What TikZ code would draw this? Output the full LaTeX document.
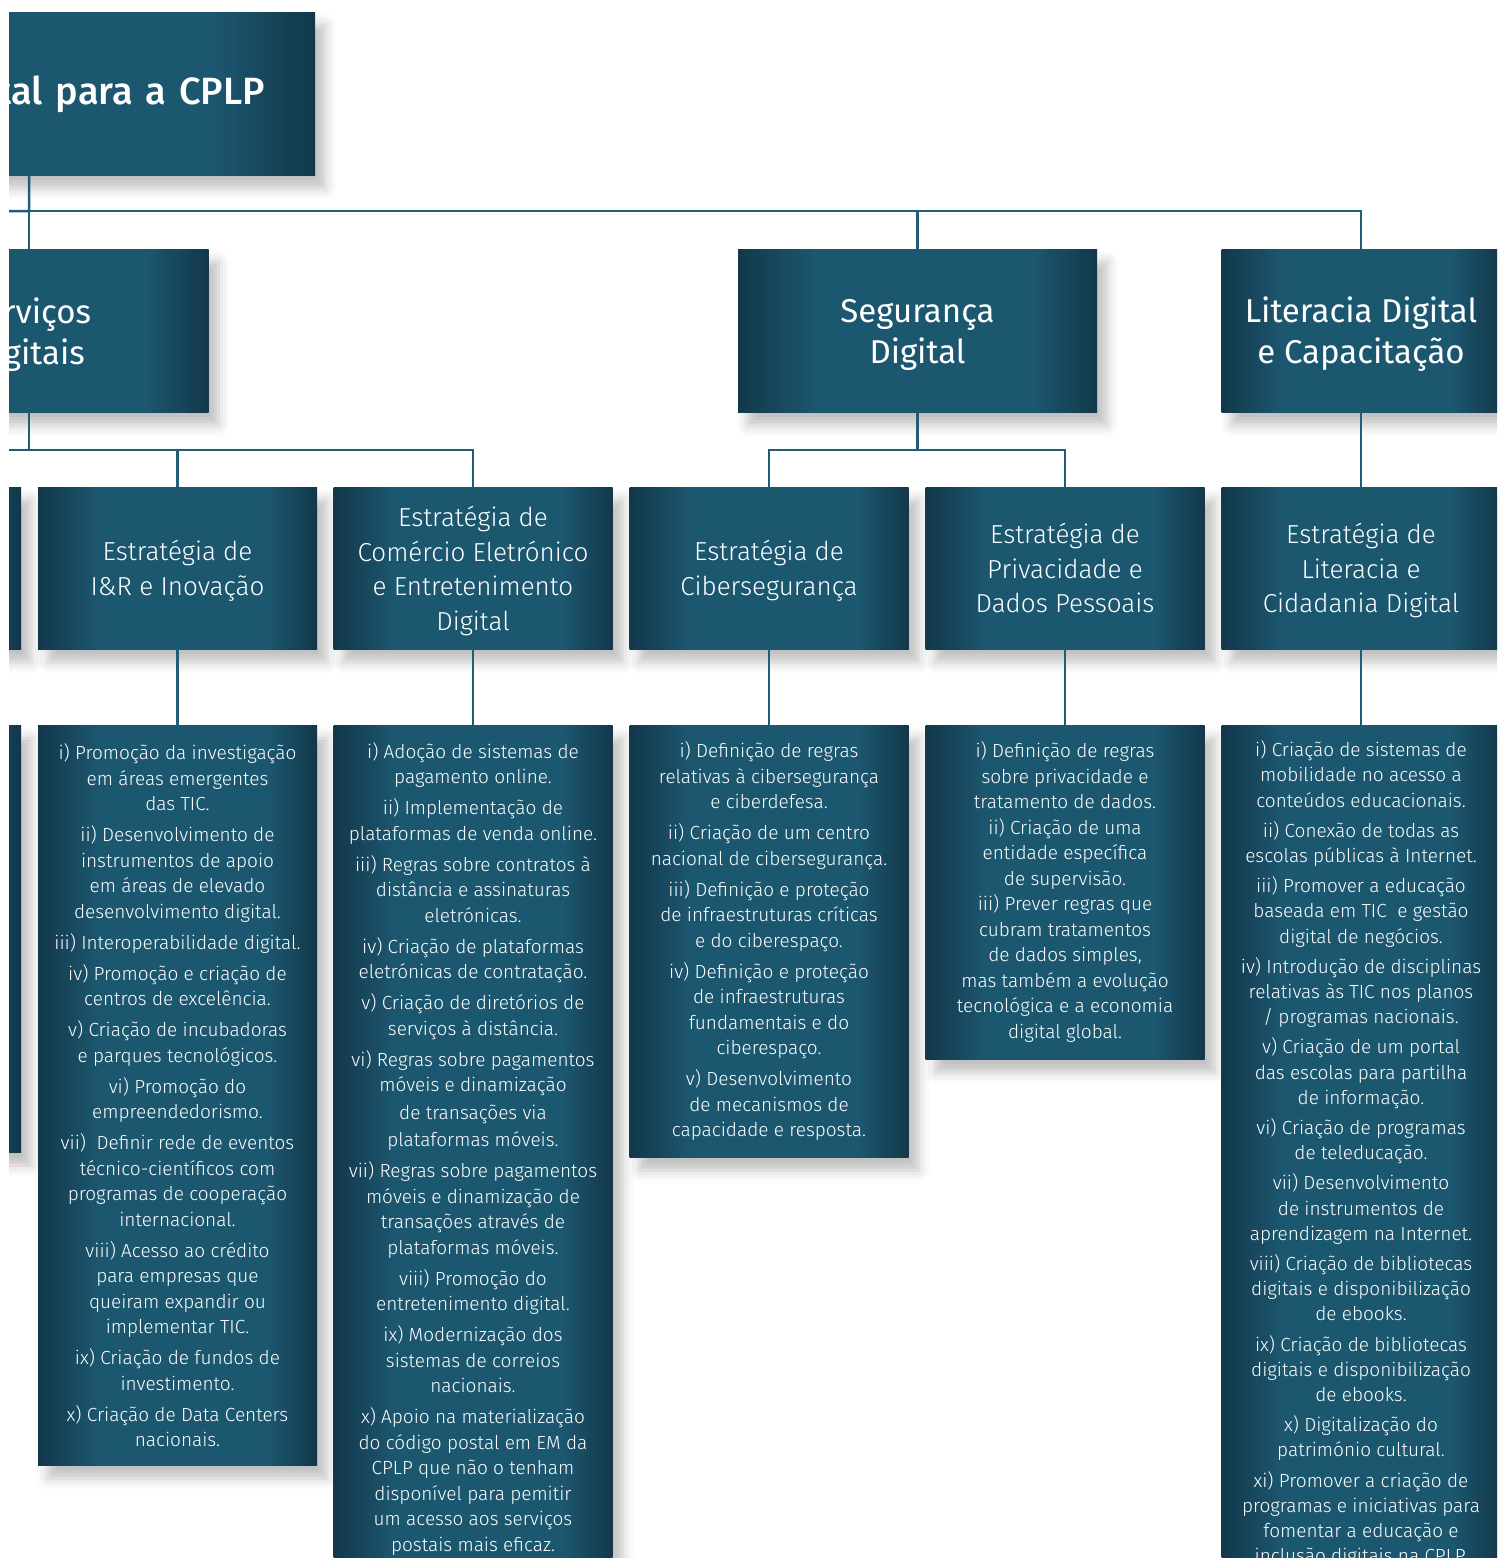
\documentclass[tikz,border=0pt]{standalone}
\usepackage{fontspec}
\setmainfont{Fira Sans}
\newfontfamily\firalight{Fira Sans Light}
\newfontfamily\firamedium{Fira Sans Medium}
\usetikzlibrary{shadows.blur}

\definecolor{boxlight}{RGB}{28,87,112}
\definecolor{boxdark}{RGB}{18,56,74}
\definecolor{linkblue}{RGB}{32,93,119}
\pgfdeclarehorizontalshading{boxshade}{100bp}{color(0bp)=(boxdark); color(25bp)=(boxdark); color(36bp)=(boxlight); color(66bp)=(boxlight); color(75bp)=(boxdark); color(100bp)=(boxdark)}

% lowers a line without changing its size
\newcommand{\dn}[2][4pt]{\raisebox{-#1}[\height][\depth]{#2}}

\tikzset{
	box/.style={shading=boxshade, text=white, align=center, inner sep=0pt,
		blur shadow={shadow xshift=10pt, shadow yshift=-13pt, shadow blur radius=11pt, shadow opacity=25}},
	rootbox/.style={box, minimum height=163pt, text width=472pt, inner xsep=50pt, align=right, font=\fontsize{38}{44}\selectfont\firamedium},
	areabox/.style={box, minimum width=359pt, minimum height=163pt, font=\fontsize{33}{41}\selectfont},
	stratbox/.style={box, minimum width=279pt, minimum height=162pt, font=\fontsize{26}{34.7}\selectfont\firalight},
	listbox/.style={box, minimum width=279pt, anchor=north, font=\fontsize{19}{25.5}\selectfont\firalight},
	link/.style={draw=linkblue, line width=2.5pt}
}

\begin{document}
\begin{tikzpicture}[x=1pt, y=-1pt]
	\useasboundingbox (0,0) rectangle (1497,1558);
	\clip (9,0) rectangle (1497,1558);

	% top and areas
	\node [rootbox] (root) at (29,93.5) {\llap{Agenda Digital para a CPLP}};
	\node [areabox] (srv) at (29,330.5) {\dn{Serviços}\\\dn{Digitais}};
	\node [areabox] (seg) at (917.5,330.5) {\dn{Segurança}\\\dn{Digital}};
	\node [areabox, minimum width=279pt] (lit) at (1361,330.5) {\dn{Literacia Digital}\\\dn{e Capacitação}};
	\coordinate (busw) at (-300,211);

	% strategies
	\node [stratbox] (x0) at (-118.5,568) {};
	\node [stratbox] (ir) at (177.5,568) {\dn[3pt]{Estratégia de}\\\dn[3pt]{I\&R e Inovação}};
	\node [stratbox] (com) at (473,568) {\dn[3pt]{Estratégia de}\\\dn[3pt]{Comércio Eletrónico}\\\dn[3pt]{e Entretenimento}\\\dn[3pt]{Digital}};
	\node [stratbox] (ciber) at (769,568) {\dn[3pt]{Estratégia de}\\\dn[3pt]{Cibersegurança}};
	\node [stratbox] (priv) at (1065,568) {Estratégia de\\Privacidade e\\Dados Pessoais};
	\node [stratbox] (cid) at (1361,568) {\dn[2.5pt]{Estratégia de}\\\dn[2.5pt]{Literacia e}\\\dn[2.5pt]{Cidadania Digital}};

	% measures
	\node [listbox, minimum height=427pt] (x0l) at (-118.5,725) {};
	\node [listbox, minimum height=740pt] (irl) at (177.5,725) {i) Promoção da investigação\\em áreas emergentes\\das TIC.\\[5.5pt]
		ii) Desenvolvimento de\\instrumentos de apoio\\em áreas de elevado\\desenvolvimento digital.\\[5.5pt]
		iii) Interoperabilidade digital.\\[5.5pt]
		iv) Promoção e criação de\\centros de excelência.\\[5.5pt]
		v) Criação de incubadoras\\e parques tecnológicos.\\[5.5pt]
		vi) Promoção do\\empreendedorismo.\\[5.5pt]
		vii)~~Definir rede de eventos\\técnico-científicos com\\programas de cooperação\\internacional.\\[5.5pt]
		viii) Acesso ao crédito\\para empresas que\\queiram expandir ou\\implementar TIC.\\[5.5pt]
		ix) Criação de fundos de\\investimento.\\[5.5pt]
		x) Criação de Data Centers\\nacionais.};
	\node [listbox, minimum height=847pt] (coml) at (473,725) {i) Adoção de sistemas de\\pagamento online.\\[5.5pt]
		ii) Implementação de\\plataformas de venda online.\\[5.5pt]
		iii) Regras sobre contratos à\\distância e assinaturas\\eletrónicas.\\[5.5pt]
		iv) Criação de plataformas\\eletrónicas de contratação.\\[5.5pt]
		v) Criação de diretórios de\\serviços à distância.\\[5.5pt]
		vi) Regras sobre pagamentos\\móveis e dinamização\\[2pt]de transações via\\[2pt]plataformas móveis.\\[5.5pt]
		vii) Regras sobre pagamentos\\móveis e dinamização de\\transações através de\\plataformas móveis.\\[5.5pt]
		viii) Promoção do\\entretenimento digital.\\[5.5pt]
		ix) Modernização dos\\sistemas de correios\\nacionais.\\[5.5pt]
		x) Apoio na materialização\\do código postal em EM da\\CPLP que não o tenham\\disponível para pemitir\\um acesso aos serviços\\postais mais eficaz.};
	\node [listbox, minimum height=432pt] (ciberl) at (769,725) {i) Definição de regras\\relativas à cibersegurança\\e ciberdefesa.\\[5.5pt]
		ii) Criação de um centro\\nacional de cibersegurança.\\[5.5pt]
		iii) Definição e proteção\\de infraestruturas críticas\\e do ciberespaço.\\[5.5pt]
		iv) Definição e proteção\\de infraestruturas\\fundamentais e do\\ciberespaço.\\[5.5pt]
		v) Desenvolvimento\\de mecanismos de\\capacidade e resposta.};
	\node [listbox, minimum height=334pt] (privl) at (1065,725) {i) Definição de regras\\sobre privacidade e\\tratamento de dados.\\
		ii) Criação de uma\\entidade específica\\de supervisão.\\
		iii) Prever regras que\\cubram tratamentos\\de dados simples,\\mas também a evolução\\tecnológica e a economia\\digital global.};
	\node [listbox, minimum height=857pt, font=\fontsize{19}{25.2}\selectfont\firalight] (cidl) at (1361,725) {i) Criação de sistemas de\\mobilidade no acesso a\\conteúdos educacionais.\\[5pt]
		ii) Conexão de todas as\\escolas públicas à Internet.\\[5pt]
		iii) Promover a educação\\baseada em TIC~~e gestão\\digital de negócios.\\[5pt]
		iv) Introdução de disciplinas\\relativas às TIC nos planos\\/ programas nacionais.\\[5pt]
		v) Criação de um portal\\das escolas para partilha\\de informação.\\[5pt]
		vi) Criação de programas\\de teleducação.\\[5pt]
		vii) Desenvolvimento\\de instrumentos de\\aprendizagem na Internet.\\[5pt]
		viii) Criação de bibliotecas\\digitais e disponibilização\\de ebooks.\\[5pt]
		ix) Criação de bibliotecas\\digitais e disponibilização\\de ebooks.\\[5pt]
		x) Digitalização do\\património cultural.\\[5pt]
		xi) Promover a criação de\\programas e iniciativas para\\fomentar a educação e\\inclusão digitais na CPLP.};

	% connectors
	\draw [link] (root.south) -- (srv.north);
	\draw [link] (root.south) -- ++(0,36) -| (seg.north);
	\draw [link] (root.south) -- ++(0,36) -| (lit.north);
	\draw [link] (root.south) -- ++(0,36) -- (busw);
	\draw [link] (srv.south) -- ++(0,38) -| (x0.north);
	\draw [link] (srv.south) -- ++(0,38) -| (ir.north);
	\draw [link] (srv.south) -- ++(0,38) -| (com.north);
	\draw [link] (seg.south) -- ++(0,38) -| (ciber.north);
	\draw [link] (seg.south) -- ++(0,38) -| (priv.north);
	\draw [link] (lit.south) -- (cid.north);
	\draw [link] (x0.south) -- (x0l.north);
	\draw [link] (ir.south) -- (irl.north);
	\draw [link] (com.south) -- (coml.north);
	\draw [link] (ciber.south) -- (ciberl.north);
	\draw [link] (priv.south) -- (privl.north);
	\draw [link] (cid.south) -- (cidl.north);
\end{tikzpicture}
\end{document}
